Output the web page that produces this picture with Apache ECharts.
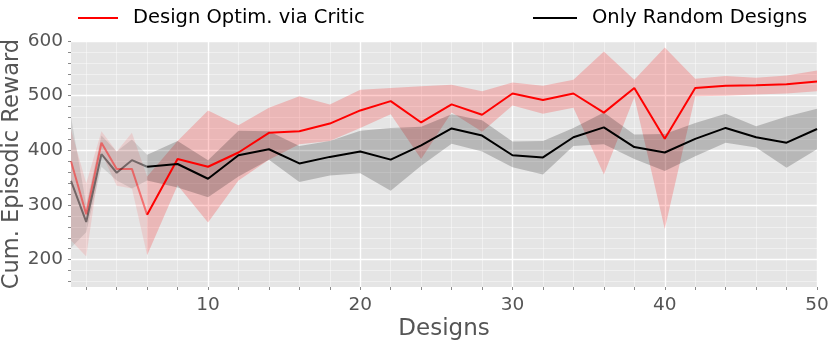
<!DOCTYPE html>
<html><head><meta charset="utf-8">
<script src="https://cdn.jsdelivr.net/npm/echarts@6/dist/echarts.min.js"></script>
<style>html,body{margin:0;padding:0;background:#fff}#c{width:831px;height:341px}</style>
</head><body><div id="c"></div>
<script>
// ---- data ----
const designs = [1,2,3,4,5,6,8,10,12,14,16,18,20,22,24,26,28,30,32,34,36,38,40,42,44,46,48,50];
const criticMean = [380,283,414,366,366,282,384,370,396,432,435,449,473,490,451,484,465,504,492,504,469,514,421,514,518,519,521,526];
const criticHigh = [438,340,435,398,432,352,417,473,446,478,499,484,511,514,517,520,508,524,518,529,581,529,588,531,536,533,537,546];
const criticLow  = [235,206,395,335,330,208,336,268,345,383,411,417,441,466,384,469,434,482,467,478,356,497,256,499,500,502,504,508];
const randomMean = [344,269,393,359,382,370,375,348,391,402,376,388,398,383,409,440,427,391,387,424,442,406,396,421,441,424,414,439];
const randomHigh = [462,300,427,398,420,392,417,382,436,435,408,417,436,441,443,466,455,416,417,441,469,429,430,450,467,444,462,476];
const randomLow  = [222,250,370,345,330,345,332,314,352,383,342,354,358,326,372,412,398,369,356,408,411,384,362,389,414,405,368,402];
const xLabels = [10,20,30,40,50];
const yLabels = [200,300,400,500,600];
const criticName = 'Design Optim. via Critic';
const randomName = 'Only Random Designs';
const initCount = 6; // first designs (random initial) drawn faded

const FONT = 'DejaVu Sans';
const chart = echarts.init(document.getElementById('c'), null, {renderer: 'canvas'});

function pairs(vals, a, b) {
  const out = [];
  for (let i = a; i < b; i++) out.push([designs[i], vals[i]]);
  return out;
}
function band(id, lo, hi, a, b, color) {
  const items = [];
  for (let i = a; i < b; i++) items.push([designs[i], lo[i], hi[i]]);
  return {
    name: id, type: 'custom', data: items, silent: true, z: 2, clip: true,
    encode: {x: 0, y: [1, 2]},
    renderItem: function (params, api) {
      if (params.dataIndex !== 0) return null;
      const pts = [];
      for (let k = 0; k < items.length; k++) pts.push(api.coord([items[k][0], items[k][2]]));
      for (let k = items.length - 1; k >= 0; k--) pts.push(api.coord([items[k][0], items[k][1]]));
      return {type: 'polygon', shape: {points: pts}, style: {fill: color, stroke: null}};
    }
  };
}
function line(name, vals, a, b, color) {
  return {name: name, type: 'line', data: pairs(vals, a, b), symbol: 'none',
          lineStyle: {color: color, width: 2}, itemStyle: {color: color}, z: 5};
}
const n = designs.length;
const fadeEnd = initCount;
const series = [
  band('cf', criticLow, criticHigh, 0, fadeEnd, 'rgba(255,0,0,0.1)'),
  band('rf', randomLow, randomHigh, 0, fadeEnd, 'rgba(0,0,0,0.1)'),
  band('cm', criticLow, criticHigh, fadeEnd - 1, n, 'rgba(255,0,0,0.2)'),
  band('rm', randomLow, randomHigh, fadeEnd - 1, n, 'rgba(0,0,0,0.2)'),
  line('critic-init', criticMean, 0, fadeEnd, 'rgba(255,0,0,0.45)'),
  line('random-init', randomMean, 0, fadeEnd, 'rgba(0,0,0,0.45)'),
  line(criticName, criticMean, fadeEnd - 1, n, '#ff0000'),
  line(randomName, randomMean, fadeEnd - 1, n, '#000000')
];

const N = 'rgba(0,0,0,0)';
const m = 'rgba(255,255,255,0.55)';
const M = '#ffffff';
function hidden() { return {axisLine: {show: false}, axisTick: {show: false}, axisLabel: {show: false}}; }
const xBase = {type: 'value', min: 1, max: 50, interval: 1, position: 'bottom'};
const yBase = {type: 'value', min: 150, max: 600, interval: 10, position: 'left'};
const evens = [];
for (let v = 2; v <= 50; v += 2) evens.push(v);
const yTicks = [];
for (let v = 160; v <= 600; v += 20) yTicks.push(v);

const option = {
  animation: false,
  backgroundColor: '#ffffff',
  textStyle: {fontFamily: FONT},
  grid: {left: 71, right: 14, top: 41, bottom: 54, show: true, backgroundColor: '#e5e5e5',
         borderWidth: 0, containLabel: false, outerBoundsMode: 'none'},
  legend: [
    {data: [{name: criticName, icon: 'rect'}], left: 73, top: 1, itemWidth: 40, itemHeight: 2,
     textStyle: {fontSize: 19.5, color: '#000', fontFamily: FONT, padding: [0,0,0,10], lineHeight: 24}},
    {data: [{name: randomName, icon: 'rect'}], left: 528, top: 1, itemWidth: 44, itemHeight: 2,
     textStyle: {fontSize: 19.5, color: '#000', fontFamily: FONT, padding: [0,0,0,10], lineHeight: 24}}
  ],
  xAxis: [
    Object.assign({}, xBase, hidden(), {splitLine: {show: true, lineStyle: {width: 0.8, color: [N,m,N,m,N,m,N,m,N,N]}}}),
    Object.assign({}, xBase, hidden(), {splitLine: {show: true, lineStyle: {width: 1.4, color: [N,N,N,N,N,N,N,N,N,M]}}}),
    Object.assign({}, xBase, {
      axisLine: {show: false, onZero: false},
      axisTick: {show: true, customValues: evens, length: 3, lineStyle: {color: '#8a8a8a', width: 1}},
      axisLabel: {show: true, customValues: xLabels, fontSize: 18.5, color: '#555', fontFamily: FONT, margin: 9},
      splitLine: {show: false},
      name: 'Designs', nameLocation: 'middle', nameGap: 31, nameMoveOverlap: false,
      nameTextStyle: {fontSize: 23, color: '#555', fontFamily: FONT, verticalAlign: 'top'}
    })
  ],
  yAxis: [
    Object.assign({}, yBase, hidden(), {splitLine: {show: true, lineStyle: {width: 0.8, color: [N,m,N,m,N,N,N,m,N,m]}}}),
    Object.assign({}, yBase, hidden(), {splitLine: {show: true, lineStyle: {width: 1.4, color: [N,N,N,N,N,M,N,N,N,N]}}}),
    Object.assign({}, yBase, {
      axisLine: {show: false, onZero: false},
      axisTick: {show: true, customValues: yTicks, length: 3, lineStyle: {color: '#8a8a8a', width: 1}},
      axisLabel: {show: true, customValues: yLabels, fontSize: 18.5, color: '#555', fontFamily: FONT, margin: 8},
      splitLine: {show: false},
      name: 'Cum. Episodic Reward', nameLocation: 'middle', nameGap: 47, nameRotate: 90, nameMoveOverlap: false,
      nameTextStyle: {fontSize: 22.5, color: '#555', fontFamily: FONT}
    })
  ],
  series: series
};
chart.setOption(option);
</script>
</body></html>
